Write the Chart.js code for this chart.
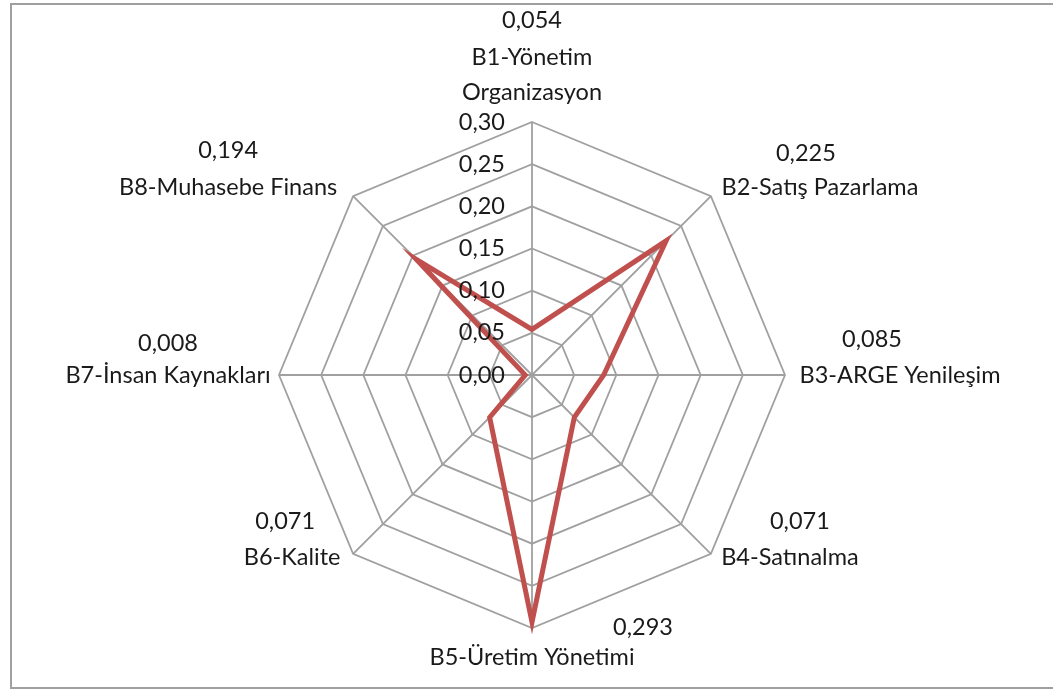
<!DOCTYPE html>
<html>
<head>
<meta charset="utf-8">
<script src="https://cdn.jsdelivr.net/npm/chart.js@4"></script>
<style>
  html, body { margin: 0; padding: 0; background: #fff; }
  canvas { display: block; }
</style>
</head>
<body>
<canvas id="c" width="1053" height="690"></canvas>
<script>
// Category names (lines of each axis label) and the series values
const categories = [
  ['B1-Yönetim', 'Organizasyon'],
  ['B2-Satış Pazarlama'],
  ['B3-ARGE Yenileşim'],
  ['B4-Satınalma'],
  ['B5-Üretim Yönetimi'],
  ['B6-Kalite'],
  ['B7-İnsan Kaynakları'],
  ['B8-Muhasebe Finans']
];
const values = [0.054, 0.225, 0.085, 0.071, 0.293, 0.071, 0.008, 0.194];
const tickValues = [0.00, 0.05, 0.10, 0.15, 0.20, 0.25, 0.30];

const FONT = '23.5px Lato, "Open Sans", sans-serif';
const TEXT = '#1a1a1a';
const GRID = '#a0a0a0';

// Turkish decimal formatting ("0,054")
const fmt = (v, d) => v.toFixed(d).replace('.', ',');

// Label placement relative to the end of each axis: name centre and value centre
const nameOffset = [[0, -65], [109, -9], [115, 0], [79, 4], [0, 29], [-61, 4], [-111, 0], [-125, -9]];
const valueOffset = [[0, -102], [95, -43], [87, -36], [89, -32], [111, -1], [-68, -32], [-111, -32], [-125, -46]];
const LINE_H = 35;

const labelsPlugin = {
  id: 'radarLabels',
  afterDatasetsDraw(chart) {
    const ctx = chart.ctx;
    const s = chart.scales.r;
    ctx.save();
    ctx.font = FONT;
    ctx.fillStyle = TEXT;
    ctx.textBaseline = 'middle';

    // radial tick labels, right-aligned beside the vertical axis
    ctx.textAlign = 'right';
    tickValues.forEach(v => {
      const d = s.getDistanceFromCenterForValue(v);
      ctx.fillText(fmt(v, 2), s.xCenter - 27, s.yCenter - d);
    });

    // category names and value labels
    ctx.textAlign = 'center';
    categories.forEach((lines, i) => {
      const end = s.getPointPosition(i, s.drawingArea);
      const [nx, ny] = nameOffset[i];
      lines.forEach((t, k) => {
        ctx.fillText(t, end.x + nx, end.y + ny + k * LINE_H);
      });
      const [vx, vy] = valueOffset[i];
      ctx.fillText(fmt(values[i], 3), end.x + vx, end.y + vy);
    });
    ctx.restore();
  },
  afterDraw(chart) {
    const ctx = chart.ctx;
    ctx.save();
    ctx.strokeStyle = '#a0a0a0';
    ctx.lineWidth = 2;
    ctx.strokeRect(11, 4, 1060, 684);
    ctx.restore();
  }
};

new Chart(document.getElementById('c'), {
  type: 'radar',
  data: {
    labels: categories.map(l => l.join(' ')),
    datasets: [{
      data: values,
      borderColor: '#c0504d',
      borderWidth: 5,
      pointRadius: 0,
      pointHoverRadius: 0,
      fill: false,
      tension: 0,
      borderJoinStyle: 'miter'
    }]
  },
  options: {
    responsive: false,
    animation: false,
    layout: { padding: { top: 122, bottom: 62, left: 279, right: 268 } },
    plugins: { legend: { display: false }, tooltip: { enabled: false } },
    scales: {
      r: {
        min: 0,
        max: 0.30,
        ticks: { stepSize: 0.05, display: false, showLabelBackdrop: false },
        grid: { color: GRID, lineWidth: 1.8, circular: false },
        angleLines: { color: GRID, lineWidth: 1.8 },
        pointLabels: { display: false }
      }
    }
  },
  plugins: [labelsPlugin]
});
</script>
</body>
</html>
